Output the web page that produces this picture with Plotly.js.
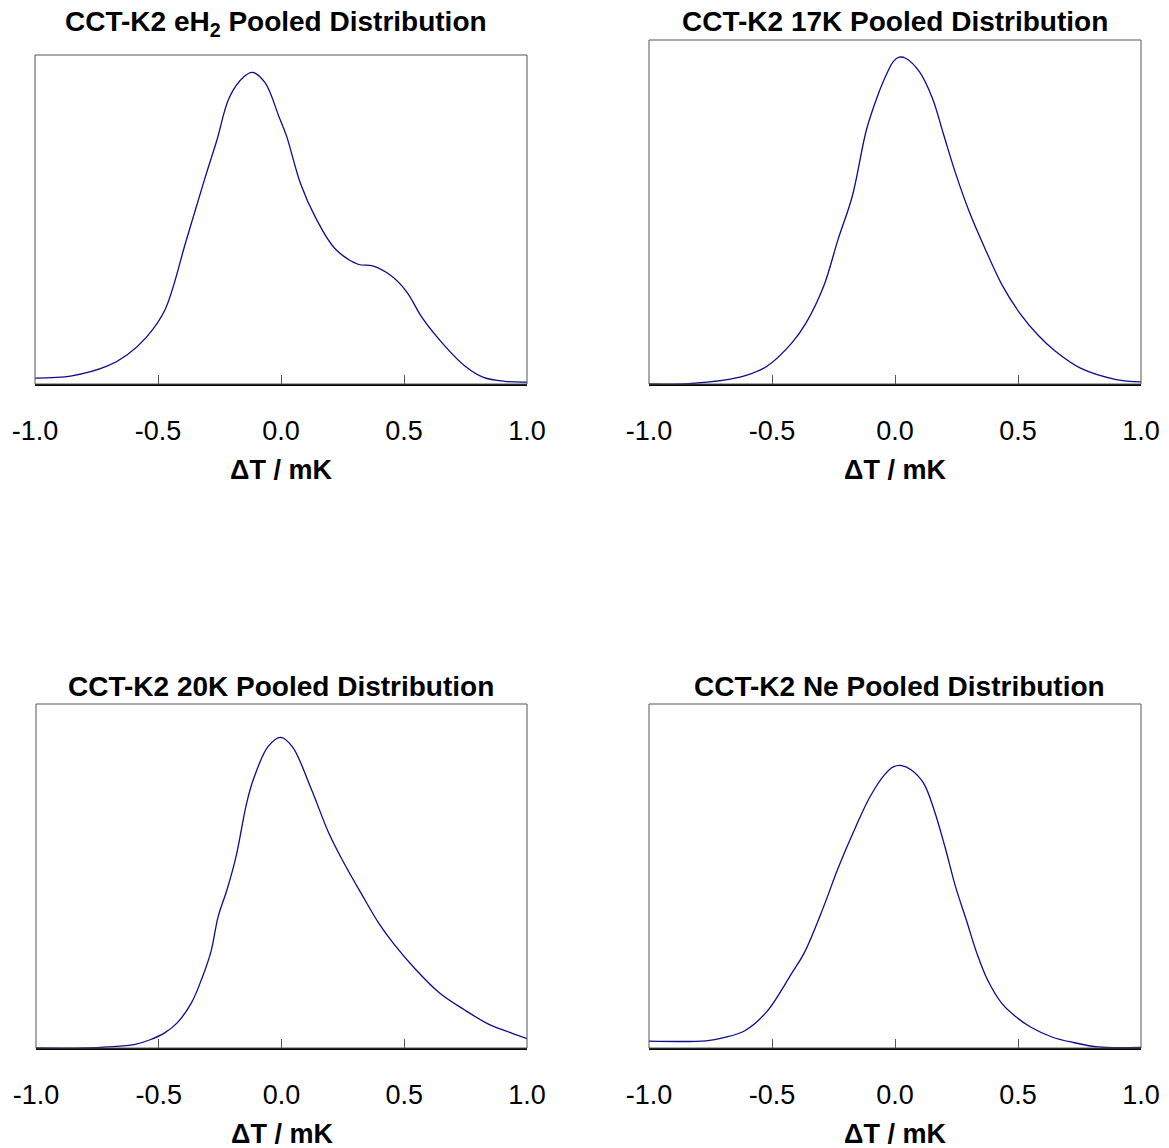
<!DOCTYPE html>
<html>
<head>
<meta charset="utf-8">
<script src="https://cdn.plot.ly/plotly-3.0.1.min.js"></script>
<style>html,body{margin:0;padding:0;background:#fff;}#chart{width:1169px;height:1148px;}</style>
</head>
<body>
<div id="chart"></div>
<script>
// ---- Data (relative density) ----
const titles = [
  "CCT-K2 eH<sub>2</sub> Pooled Distribution",
  "CCT-K2 17K Pooled Distribution",
  "CCT-K2 20K Pooled Distribution",
  "CCT-K2 Ne Pooled Distribution"
];
const xTitle = "\u0394T / mK";
const tickValues = [-1.0, -0.5, 0.0, 0.5, 1.0];
const tickLabels = ["-1.0", "-0.5", "0.0", "0.5", "1.0"];

const eH2_x = [-1.0,-0.85,-0.705,-0.625,-0.545,-0.472,-0.385,-0.312,-0.261,-0.21,-0.152,-0.116,-0.065,-0.007,0.022,0.08,0.139,0.219,0.313,0.372,0.444,0.51,0.575,0.662,0.75,0.823,0.91,1.0];
const eH2_y = [0.018,0.025,0.055,0.089,0.144,0.225,0.437,0.619,0.74,0.871,0.933,0.947,0.916,0.81,0.755,0.608,0.508,0.412,0.364,0.359,0.331,0.281,0.2,0.119,0.053,0.02,0.008,0.006];

const k17_x = [-1.0,-0.841,-0.696,-0.609,-0.522,-0.42,-0.362,-0.29,-0.232,-0.174,-0.116,-0.072,-0.036,-0.007,0.017,0.043,0.099,0.152,0.196,0.246,0.304,0.362,0.435,0.507,0.58,0.652,0.754,0.899,1.0];
const k17_y = [0.0,0.001,0.011,0.024,0.051,0.119,0.177,0.284,0.419,0.545,0.739,0.835,0.898,0.937,0.95,0.947,0.908,0.831,0.729,0.613,0.497,0.4,0.288,0.206,0.143,0.095,0.046,0.013,0.006];

const k20_x = [-1.0,-0.796,-0.709,-0.6,-0.535,-0.476,-0.425,-0.367,-0.324,-0.287,-0.258,-0.222,-0.185,-0.142,-0.113,-0.055,-0.004,0.044,0.12,0.193,0.251,0.324,0.396,0.455,0.542,0.644,0.745,0.847,0.935,1.0];
const k20_y = [0.0,0.0,0.003,0.01,0.024,0.044,0.073,0.131,0.203,0.281,0.382,0.46,0.557,0.712,0.784,0.876,0.903,0.876,0.755,0.624,0.542,0.45,0.363,0.305,0.232,0.16,0.111,0.068,0.044,0.027];

const ne_x = [-1.0,-0.768,-0.696,-0.609,-0.522,-0.42,-0.37,-0.29,-0.232,-0.159,-0.101,-0.043,-0.007,0.026,0.065,0.116,0.159,0.203,0.246,0.29,0.333,0.377,0.435,0.493,0.551,0.638,0.725,0.826,1.0];
const ne_y = [0.02,0.021,0.03,0.051,0.105,0.217,0.275,0.411,0.522,0.644,0.731,0.794,0.817,0.821,0.809,0.77,0.692,0.585,0.469,0.372,0.275,0.197,0.129,0.09,0.061,0.032,0.016,0.003,0.002];

// ---- Layout geometry ----
const W = 1169, H = 1148;
const px = v => v / W;
const py = v => 1 - v / H;
const boxes = [
  {l: 35, r: 527, t: 55, b: 384},
  {l: 649, r: 1141, t: 40, b: 384},
  {l: 36, r: 527, t: 704, b: 1048},
  {l: 649, r: 1141, t: 704, b: 1048}
];
const series = [[eH2_x, eH2_y], [k17_x, k17_y], [k20_x, k20_y], [ne_x, ne_y]];
const titleY = [23, 21, 686, 686];
const titleX = [276, 895, 281, 900];
const axTitleY = [470, 470, 1134, 1134];

const lineColor = "#0c0c8a";
const fontFam = "Liberation Sans, Arial, sans-serif";

const traces = [];
const layout = {
  width: W, height: H,
  margin: {l: 0, r: 0, t: 0, b: 0},
  paper_bgcolor: "#fff", plot_bgcolor: "#fff",
  showlegend: false,
  font: {family: fontFam, color: "#000"},
  shapes: [], annotations: []
};

series.forEach((s, i) => {
  const n = i + 1;
  const xa = n === 1 ? "x" : "x" + n;
  const ya = n === 1 ? "y" : "y" + n;
  traces.push({
    x: s[0], y: s[1], xaxis: xa, yaxis: ya,
    type: "scatter", mode: "lines",
    line: {color: lineColor, width: 1.3, shape: "spline", smoothing: 1.0},
    hoverinfo: "skip", cliponaxis: false
  });
  const b = boxes[i];
  const xk = n === 1 ? "xaxis" : "xaxis" + n;
  const yk = n === 1 ? "yaxis" : "yaxis" + n;
  layout[xk] = {
    domain: [px(b.l), px(b.r)],
    anchor: ya, range: [-1, 1],
    tickmode: "array", tickvals: tickValues, ticktext: tickLabels,
    ticks: "inside", ticklen: 9, tickwidth: 1, tickcolor: "#555",
    showline: true, linecolor: "#000", linewidth: 2,
    showgrid: false, zeroline: false,
    tickfont: {family: fontFam, size: 27, color: "#000"},
    ticklabelstandoff: 22,
    fixedrange: true
  };
  layout[yk] = {
    domain: [py(b.b), py(b.t)],
    anchor: xa, range: [0, 1],
    showticklabels: false, ticks: "", showline: false,
    showgrid: false, zeroline: false, fixedrange: true
  };
  layout.shapes.push({
    type: "rect", xref: xa + " domain", yref: ya + " domain",
    x0: 0, x1: 1, y0: 0, y1: 1,
    line: {color: "#555", width: 1}, layer: "above"
  });
  layout.annotations.push({
    text: "<b>" + titles[i] + "</b>",
    xref: "paper", yref: "paper",
    x: px(titleX[i]), y: py(titleY[i]),
    xanchor: "center", yanchor: "middle", showarrow: false,
    font: {family: fontFam, size: 28, color: "#000"}
  });
  layout.annotations.push({
    text: "<b>" + xTitle + "</b>",
    xref: "paper", yref: "paper",
    x: px((b.l + b.r) / 2), y: py(axTitleY[i]),
    xanchor: "center", yanchor: "middle", showarrow: false,
    font: {family: fontFam, size: 27, color: "#000"}
  });
});

Plotly.newPlot("chart", traces, layout, {staticPlot: true, displayModeBar: false});
</script>
</body>
</html>
